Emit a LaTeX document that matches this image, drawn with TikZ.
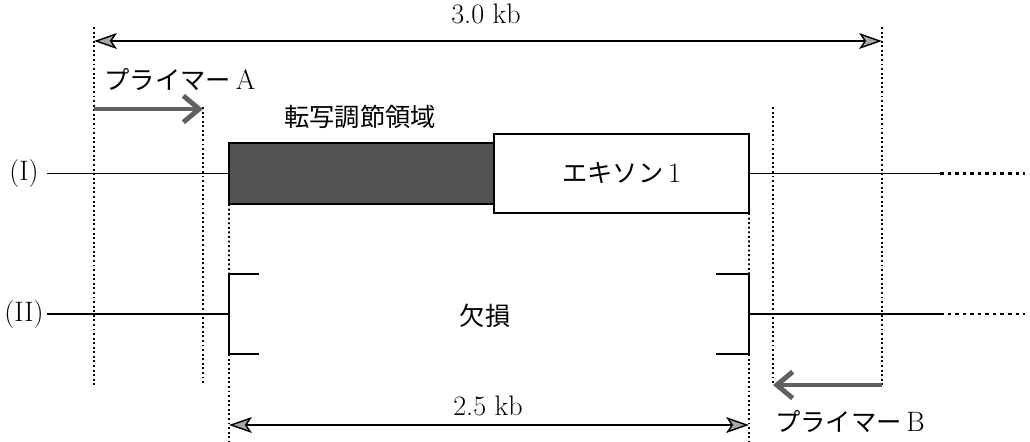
\documentclass[tikz,border=0pt]{standalone}
\usepackage{fontspec}
\newfontfamily\jp[Scale=0.9]{Noto Sans CJK JP}
\usetikzlibrary{arrows.meta}

\begin{document}
\begin{tikzpicture}[x=0.02cm,y=-0.02cm,
		font=\fontsize{16pt}{18pt}\selectfont,
		guide/.style={line width=1.1pt,dash pattern=on 1.1pt off 1.5pt},
		dna/.style={line width=0.8pt},
		dnaend/.style={line width=1.4pt,dash pattern=on 2pt off 2.3pt},
		span/.style={line width=0.8pt,{Stealth[length=13pt,width=9pt,inset=3pt,fill=gray!70]}-{Stealth[length=13pt,width=9pt,inset=3pt,fill=gray!70]}},
		primer/.style={line width=2.8pt,draw=gray!75!black,-{Straight Barb[length=9pt,width=15pt]}},
		promoter/.style={draw,line width=0.8pt,fill=black!68,minimum width=5.3cm,minimum height=1.22cm,inner sep=0pt,outer sep=0pt},
		exonbox/.style={draw,line width=0.8pt,minimum width=5.1cm,minimum height=1.58cm,inner sep=0pt,outer sep=0pt},
	]
	\useasboundingbox (0,0) rectangle (1030,441) ;
	%Boites
	\node [promoter]	(prom)	at (361.5,173.5)	{} ;
	\node [exonbox]		(exon)	at (621.5,173.5)	{{\jp エキソン}\,1} ;
	%Reperes
	\coordinate (aT) at (94,27) ;	\coordinate (aB) at (94,385) ;
	\coordinate (bT) at (203,107) ;	\coordinate (bB) at (203,385) ;
	\coordinate (cT) at (773,107) ;	\coordinate (cB) at (773,385) ;
	\coordinate (dT) at (882,27) ;	\coordinate (dB) at (882,385) ;
	\coordinate (delLT) at (229,274) ;	\coordinate (delLB) at (229,354) ;
	\coordinate (delRT) at (749,274) ;	\coordinate (delRB) at (749,354) ;
	%Pointilles
	\draw [guide]	(aT) -- (aB) ;
	\draw [guide]	(bT) -- (bB) ;
	\draw [guide]	(cT) -- (cB) ;
	\draw [guide]	(dT) -- (dB) ;
	\draw [guide]	(prom.south west) -- (delLT) ;
	\draw [guide]	(delLB) -- (229,441) ;
	\draw [guide]	(exon.south east) -- (delRT) ;
	\draw [guide]	(delRB) -- (749,441) ;
	%Brins
	\draw [dna]		(47,173.5) -- (prom.west) ;
	\draw [dna]		(exon.east) -- (940,173.5) ;
	\draw [dnaend]	(940,173.5) -- (1025,173.5) ;
	\draw [dna]		(47,314) -- (229,314) ;
	\draw [dna]		(749,314) -- (940,314) ;
	\draw [dnaend]	(940,314) -- (1025,314) ;
	%Deletion
	\draw [dna]		(259,274) -- (delLT) -- (delLB) -- (259,354) ;
	\draw [dna]		(716,274) -- (delRT) -- (delRB) -- (716,354) ;
	%Longueurs
	\draw [span]	(94,41) -- (882,41) ;
	\draw [span]	(229,425) -- (749,425) ;
	%Amorces
	\draw [primer]	(94,109) -- (203,109) ;
	\draw [primer]	(882,385) -- (773,385) ;
	%Textes
	\node (lenA)	at (486,14)		{3.0 kb} ;
	\node (lenB)	at (488,406)	{2.5 kb} ;
	\node (rowI)	at (24,173)		{(I)} ;
	\node (rowII)	at (24,314)		{(II)} ;
	\node (primA)	at (180,80)		{{\jp プライマー}\,A} ;
	\node (primB)	at (850,422)	{{\jp プライマー}\,B} ;
	\node (reg)		at (360,117)	{\jp 転写調節領域} ;
	\node (del)		at (485,316)	{\jp 欠損} ;
\end{tikzpicture}
\end{document}
